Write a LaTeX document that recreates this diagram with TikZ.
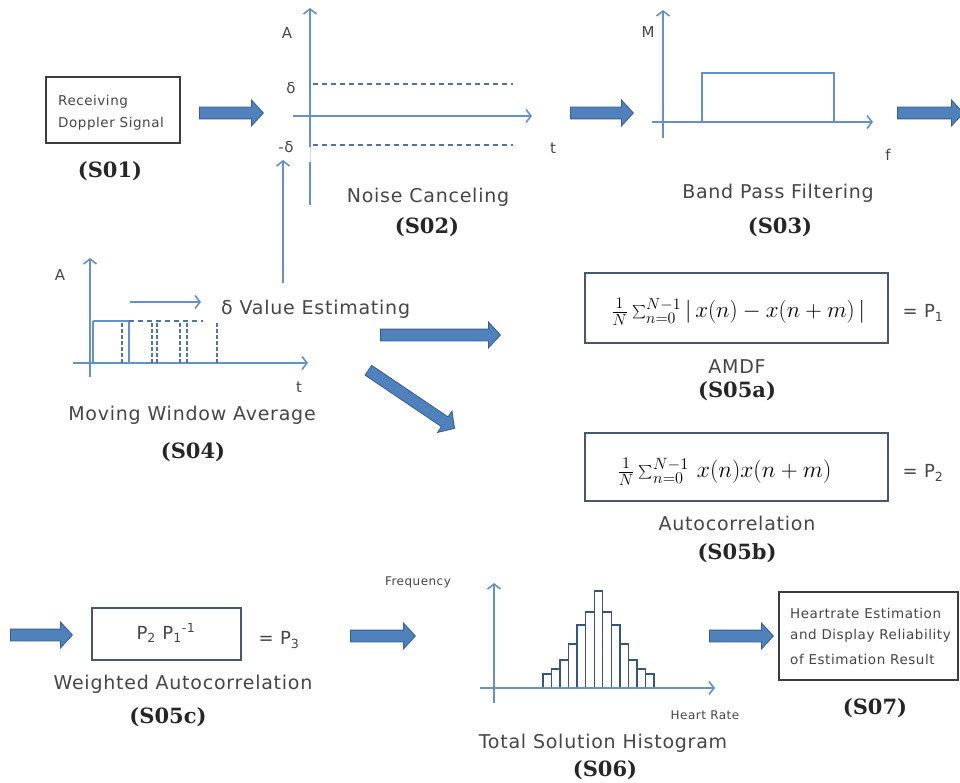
\documentclass[tikz,border=0pt]{standalone}
\usepackage{fontspec}
\setmainfont{DejaVu Sans}
\newfontfamily\lab{DejaVu Sans}[LetterSpace=4]
\newfontfamily\stepfont{DejaVu Serif}
\usetikzlibrary{arrows.meta,shapes.arrows}
\definecolor{txtgray}{RGB}{70,70,70}
\definecolor{axisblue}{RGB}{100,145,200}
\definecolor{dashblue}{RGB}{80,115,165}
\definecolor{arrowfill}{RGB}{79,129,189}
\definecolor{arrowdraw}{RGB}{56,93,138}
\definecolor{boxgray}{RGB}{60,60,60}
\definecolor{boxslate}{RGB}{70,88,108}
\definecolor{bardraw}{RGB}{55,85,125}
\begin{document}
\begin{tikzpicture}[x=1pt,y=-1pt,
  lbl/.style={text=txtgray, font=\lab\fontsize{19}{21}\selectfont, inner sep=0pt},
  sml/.style={text=txtgray, font=\lab\fontsize{13.5}{16}\selectfont, inner sep=0pt},
  stp/.style={text=black!85, font=\stepfont\bfseries\fontsize{21}{25}\selectfont, inner sep=0pt},
  axl/.style={text=txtgray, font=\lab\fontsize{15}{18}\selectfont, inner sep=0pt},
  eql/.style={text=txtgray, font=\lab\fontsize{18}{21}\selectfont, inner sep=0pt},
  axisline/.style={draw=axisblue, line width=1.6pt},
  axisarrow/.style={axisline, -{Straight Barb[length=5pt,width=13pt,line width=1.6pt]}},
  dashln/.style={draw=dashblue, line width=1.3pt, dash pattern=on 5pt off 4pt},
  barrow/.style={single arrow, draw=arrowdraw, fill=arrowfill, line width=0.8pt,
    inner xsep=0pt, inner ysep=5.5pt, single arrow head extend=7pt,
    single arrow tip angle=95, minimum height=#1, anchor=tail},
  tbox/.style={draw=boxgray, line width=1.1pt},
  fbox/.style={draw=boxslate, line width=2pt},
]
\path[use as bounding box, fill=white] (0,0) rectangle (960,783);

% ---------- S01 ----------
\draw[tbox] (46,77) rectangle (180,143);
\node[sml, anchor=west] (rcv1) at (58,102) {Receiving};
\node[sml, anchor=west] (rcv2) at (58,124) {Doppler Signal};
\node[stp] (s01) at (110,171) {(S01)};
\node[barrow=64pt, rotate=0] (ba1) at (199,113) {};

% ---------- S02 ----------
\coordinate (s2bot) at (310,205);
\coordinate (s2gapb) at (310,162);
\coordinate (s2gapt) at (310,147);
\coordinate (s2top) at (310,8);
\draw[axisline] (s2bot) -- (s2gapb);
\draw[draw=axisblue!35, line width=1pt] (s2gapb) -- (s2gapt);
\draw[axisarrow] (s2gapt) -- (s2top);
\coordinate (s2l) at (293,116);
\coordinate (s2r) at (532,116);
\draw[axisarrow] (s2l) -- (s2r);
\coordinate (d1a) at (313,84);
\coordinate (d1b) at (513,84);
\coordinate (d2a) at (313,145);
\coordinate (d2b) at (513,145);
\draw[dashln] (d1a) -- (d1b);
\draw[dashln] (d2a) -- (d2b);
\node[axl] (A2) at (287,33) {A};
\node[axl] (dl1) at (291,88) {δ};
\node[axl] (dl2) at (286,147) {-δ};
\node[axl] (t2) at (553,148) {t};
\node[lbl] (nc) at (428,197) {Noise Canceling};
\node[stp] (s02) at (427,227) {(S02)};
\node[barrow=63pt] (ba2) at (570,113) {};

% ---------- S03 ----------
\coordinate (s3bot) at (663,138);
\coordinate (s3top) at (663,10);
\draw[axisarrow] (s3bot) -- (s3top);
\coordinate (s3l) at (652,122);
\coordinate (s3r) at (873,122);
\draw[axisarrow] (s3l) -- (s3r);
\draw[axisline] (702,122) -- (702,73) -- (834,73) -- (834,122);
\node[axl] (M3) at (648,32) {M};
\node[axl] (f3) at (888,155) {f};
\node[lbl] (bpf) at (778,193) {Band Pass Filtering};
\node[stp] (s03) at (780,227) {(S03)};
\node[barrow=66pt] (ba3) at (897,113) {};

% ---------- S04 ----------
\coordinate (s4bot) at (90,377);
\coordinate (s4top) at (90,258);
\draw[axisarrow] (s4bot) -- (s4top);
\coordinate (s4l) at (73,363);
\coordinate (s4r) at (308,363);
\draw[axisarrow] (s4l) -- (s4r);
\draw[axisline] (129,363) -- (129,321) -- (93,321);
\draw[draw=axisblue, line width=2.6pt] (93,321) -- (93,363);
\foreach \xx in {122,152,157,180,187,217}
  \draw[dashln, line width=1.2pt, dash pattern=on 3.5pt off 2.5pt] (\xx,323) -- (\xx,363);
\draw[dashln, line width=1.2pt] (129,321) -- (203,321);
\coordinate (mwa) at (130,302);
\coordinate (mwb) at (201,302);
\draw[axisarrow, line width=1.4pt] (mwa) -- (mwb);
\node[axl] (A4) at (60,275) {A};
\node[axl] (t4) at (299,387) {t};
\node[lbl, anchor=west] (dve) at (221,309) {δ Value Estimating};
\node[lbl] (mwavg) at (192,415) {Moving Window Average};
\node[stp] (s04) at (193,452) {(S04)};
\coordinate (upb) at (283,283);
\coordinate (upt) at (283,160);
\draw[axisarrow] (upb) -- (upt);
\node[barrow=120pt] (ba4) at (380,335) {};
\node[barrow=104pt, rotate=-34] (ba5) at (368,370) {};

% ---------- S05a ----------
\node[fbox, minimum width=303pt, minimum height=70pt, inner sep=0pt] (amdf) at (736.5,308) {};
\node[inner sep=0pt, font=\fontsize{16.5}{20}\selectfont] (famdf) at (738,312)
  {\scalebox{1.33}{$\frac{1}{N}\sum_{n=0}^{N-1}|\,x(n)-x(n+m)\,|$}};
\node[eql] (p1) at (923,313) {= P\textsubscript{1}};
\node[lbl] (amdft) at (737,367) {AMDF};
\node[stp] (s05a) at (737,391) {(S05a)};

% ---------- S05b ----------
\node[fbox, minimum width=303pt, minimum height=68pt, inner sep=0pt] (acbox) at (736.5,467) {};
\node[inner sep=0pt, anchor=west, font=\fontsize{16.5}{20}\selectfont] (fac) at (617,472)
  {\scalebox{1.36}{$\frac{1}{N}\sum_{n=0}^{N-1}\,x(n)x(n+m)$}};
\node[eql] (p2) at (923,473) {= P\textsubscript{2}};
\node[lbl] (act) at (737,523) {Autocorrelation};
\node[stp] (s05b) at (737,553) {(S05b)};

% ---------- S05c ----------
\node[barrow=62pt] (ba6) at (10,635) {};
\node[fbox, minimum width=149pt, minimum height=52pt, inner sep=0pt] (wbox) at (166.5,634) {};
\node[eql] (p21) at (166,633) {P\textsubscript{2} P\textsubscript{1}\textsuperscript{-1}};
\node[eql] (p3) at (279,640) {= P\textsubscript{3}};
\node[lbl] (wac) at (183,684) {Weighted Autocorrelation};
\node[stp] (s05c) at (168,717) {(S05c)};
\node[barrow=65pt] (ba7) at (350,636) {};

% ---------- S06 ----------
\coordinate (s6bot) at (494,703);
\coordinate (s6top) at (494,583);
\draw[axisarrow] (s6bot) -- (s6top);
\coordinate (s6l) at (480,688);
\coordinate (s6r) at (715,688);
\foreach \tp [count=\i from 0] in {674,669,660,644,625,612,591,612,625,644,660,669,674}
  \draw[draw=bardraw, line width=1.4pt, fill=white] ({543+\i*8.54},688) rectangle ({543+(\i+1)*8.54},\tp);
\draw[axisarrow] (s6l) -- (s6r);
\node[sml, font=\lab\fontsize{12}{14}\selectfont] (freq) at (418,582) {Frequency};
\node[sml, font=\lab\fontsize{12}{14}\selectfont] (hr) at (705,715) {Heart Rate};
\node[lbl] (tsh) at (603,743) {Total Solution Histogram};
\node[stp] (s06) at (605,770) {(S06)};
\node[barrow=64pt] (ba8) at (709,636) {};

% ---------- S07 ----------
\draw[tbox] (779,592) rectangle (958,680);
\node[sml, anchor=west] (h1) at (790,613) {Heartrate Estimation};
\node[sml, anchor=west] (h2) at (790,636) {and Display Reliability};
\node[sml, anchor=west] (h3) at (790,659) {of Estimation Result};
\node[stp] (s07) at (875,708) {(S07)};
\end{tikzpicture}
\end{document}
